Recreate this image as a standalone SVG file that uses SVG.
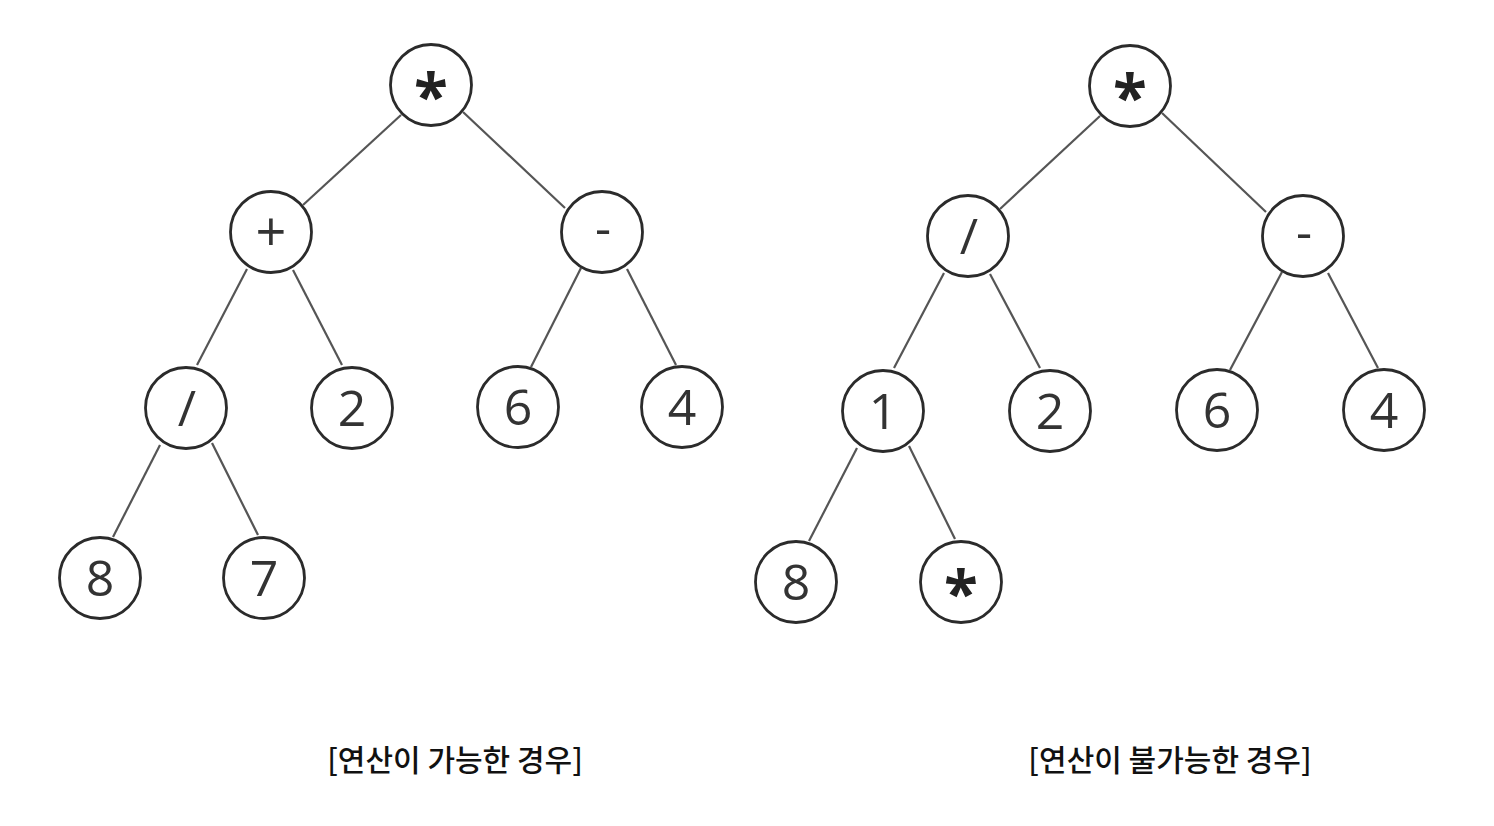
<svg xmlns="http://www.w3.org/2000/svg" width="1494" height="826" viewBox="0 0 1494 826">
<style>
.n circle{fill:#fff;stroke:#2b2b2b;stroke-width:2.8}
.n text{font-family:"Open Sans","Noto Sans",sans-serif;font-size:50px;fill:#333;text-anchor:middle}
.n text.ast{font-size:62px;font-weight:bold;fill:#222}
.n text.op{font-size:54px}
.e line{stroke:#555;stroke-width:2.2}
.cap{font-family:"Noto Sans CJK KR","Noto Sans",sans-serif;font-size:30px;font-weight:500;fill:#111;text-anchor:middle}
</style>
<rect width="1494" height="826" fill="#fff"/>
<g id="connectors" class="e">
<line x1="401" y1="115" x2="303" y2="205"/>
<line x1="463" y1="112" x2="565" y2="208"/>
<line x1="247" y1="269" x2="197" y2="365"/>
<line x1="293" y1="270" x2="342" y2="365"/>
<line x1="581" y1="268" x2="531" y2="367"/>
<line x1="627" y1="269" x2="676" y2="365"/>
<line x1="160" y1="445" x2="113" y2="537"/>
<line x1="212" y1="443" x2="258" y2="535"/>
<line x1="1100" y1="116" x2="1000" y2="209"/>
<line x1="1162" y1="113" x2="1266" y2="212"/>
<line x1="944" y1="273" x2="894" y2="368"/>
<line x1="990" y1="274" x2="1040" y2="368"/>
<line x1="1282" y1="272" x2="1230" y2="370"/>
<line x1="1328" y1="273" x2="1378" y2="368"/>
<line x1="857" y1="448" x2="809" y2="541"/>
<line x1="909" y1="446" x2="955" y2="539"/>
</g>
<g id="L_root" class="n"><circle cx="431" cy="85" r="40.5"/><text class="ast" x="431" y="119">*</text></g>
<g id="L_plus" class="n"><circle cx="271" cy="232" r="40.5"/><text class="op" x="271" y="251">+</text></g>
<g id="L_minus" class="n"><circle cx="602" cy="232" r="40.5"/><text x="603" y="246">-</text></g>
<g id="L_div" class="n"><circle cx="186" cy="408" r="40.5"/><text x="187" y="426">/</text></g>
<g id="L_2" class="n"><circle cx="352" cy="408" r="40.5"/><text x="352" y="426">2</text></g>
<g id="L_6" class="n"><circle cx="518" cy="407" r="40.5"/><text x="518" y="425">6</text></g>
<g id="L_4" class="n"><circle cx="682" cy="407" r="40.5"/><text x="682" y="425">4</text></g>
<g id="L_8" class="n"><circle cx="100" cy="578" r="40.5"/><text x="100" y="596">8</text></g>
<g id="L_7" class="n"><circle cx="264" cy="578" r="40.5"/><text x="264" y="596">7</text></g>
<g id="R_root" class="n"><circle cx="1130" cy="86" r="40.5"/><text class="ast" x="1130" y="120">*</text></g>
<g id="R_div" class="n"><circle cx="968" cy="236" r="40.5"/><text x="969" y="254">/</text></g>
<g id="R_minus" class="n"><circle cx="1303" cy="236" r="40.5"/><text x="1304" y="250">-</text></g>
<g id="R_1" class="n"><circle cx="883" cy="411" r="40.5"/><text x="883" y="429">1</text></g>
<g id="R_2" class="n"><circle cx="1050" cy="411" r="40.5"/><text x="1050" y="429">2</text></g>
<g id="R_6" class="n"><circle cx="1217" cy="410" r="40.5"/><text x="1217" y="428">6</text></g>
<g id="R_4" class="n"><circle cx="1384" cy="410" r="40.5"/><text x="1384" y="428">4</text></g>
<g id="R_8" class="n"><circle cx="796" cy="582" r="40.5"/><text x="796" y="600">8</text></g>
<g id="R_ast" class="n"><circle cx="961" cy="582" r="40.5"/><text class="ast" x="961" y="616">*</text></g>
<text class="cap" x="455" y="771">[연산이 가능한 경우]</text>
<text class="cap" x="1170" y="771">[연산이 불가능한 경우]</text>
</svg>
